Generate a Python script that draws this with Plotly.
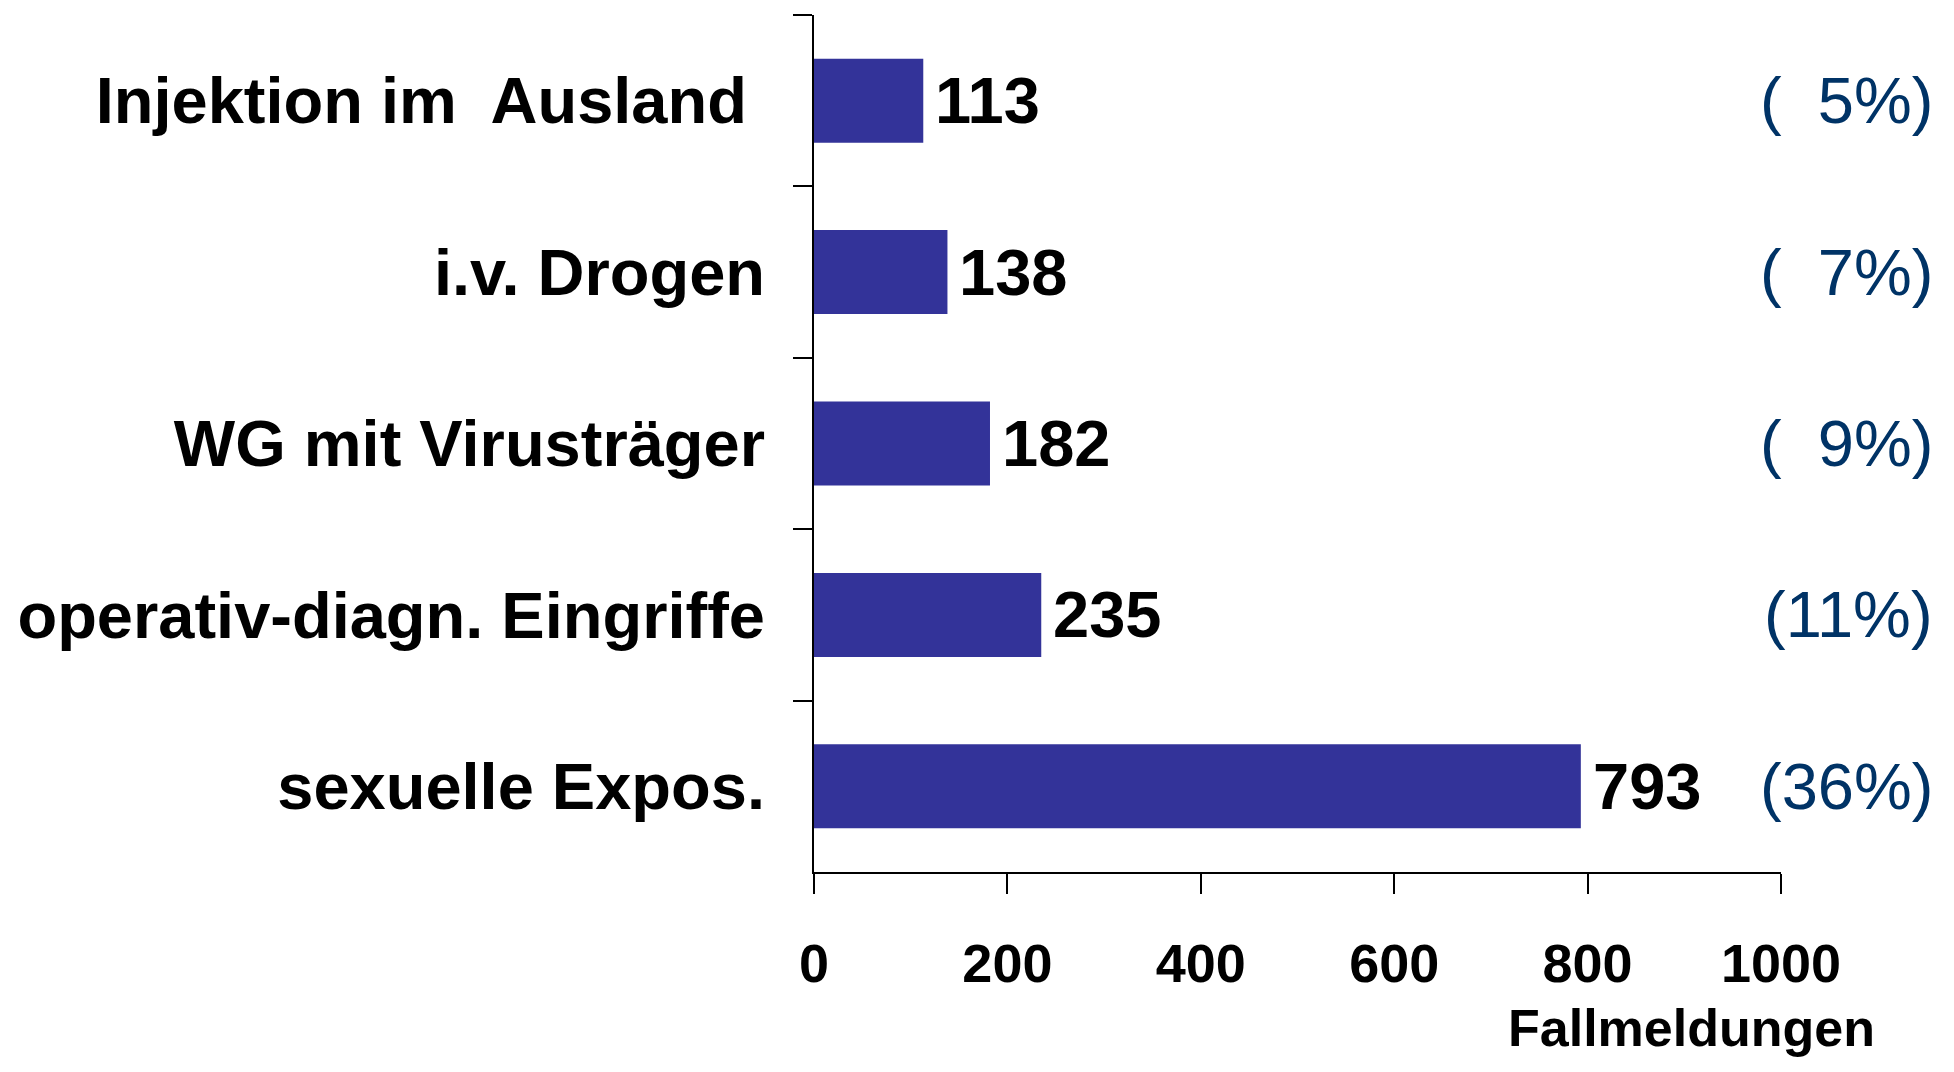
import plotly.graph_objects as go

# top-to-bottom order as shown
categories = [
    "Injektion im\u00a0 Ausland\u00a0",
    "i.v. Drogen",
    "WG mit Virusträger",
    "operativ-diagn. Eingriffe",
    "sexuelle Expos.",
]
cases = [113, 138, 182, 235, 793]
percent_labels = ["(\u00a0\u00a05%)", "(\u00a0\u00a07%)", "(\u00a0\u00a09%)", "(11%)", "(36%)"]
x_ticks = [0, 200, 400, 600, 800, 1000]

BAR_COLOR = "#333399"
PCT_COLOR = "#003366"
FONT = "Liberation Sans"

fig = go.Figure()
fig.add_trace(go.Bar(
    x=cases,
    y=categories,
    orientation="h",
    width=0.49,
    marker={"color": BAR_COLOR, "line": {"width": 0}},
    showlegend=False,
))

# value labels right of each bar
for cat, val in zip(categories, cases):
    fig.add_annotation(
        x=val, y=cat, xref="x", yref="y",
        text=str(val), showarrow=False,
        xanchor="left", yanchor="middle", xshift=10,
        font={"family": FONT, "size": 65, "color": "black", "weight": "bold"},
    )

# percentage labels at the right edge
for cat, pct in zip(categories, percent_labels):
    fig.add_annotation(
        x=1.159, y=cat, xref="paper", yref="y",
        text=pct, showarrow=False,
        xanchor="right", yanchor="middle",
        font={"family": FONT, "size": 65, "color": PCT_COLOR},
    )

fig.add_annotation(
    x=0.907, y=-0.182, xref="paper", yref="paper",
    text="Fallmeldungen", showarrow=False,
    xanchor="center", yanchor="middle", borderpad=0,
    font={"family": FONT, "size": 52, "color": "black", "weight": "bold"},
)

fig.update_xaxes(
    range=[0, 1000],
    tickvals=x_ticks,
    ticks="outside", ticklen=20, tickwidth=2, tickcolor="black",
    showline=True, linecolor="black", linewidth=2,
    showgrid=False, zeroline=False,
    ticklabelstandoff=23,
    tickfont={"family": FONT, "size": 54, "color": "black", "weight": "bold"},
)
fig.update_yaxes(
    type="category",
    autorange="reversed",
    tickson="boundaries",
    ticks="outside", ticklen=19, tickwidth=2, tickcolor="black",
    showline=True, linecolor="black", linewidth=2,
    showgrid=False, zeroline=False,
    ticklabelstandoff=34,
    tickfont={"family": FONT, "size": 65, "color": "black", "weight": "bold"},
)

# page body has an 8px margin, so the figure is sized to fit inside it
fig.update_layout(
    width=1938,
    height=1056,
    margin={"l": 806, "r": 165, "t": 7, "b": 192, "autoexpand": False},
    paper_bgcolor="white",
    plot_bgcolor="white",
)

fig.write_html("out.html")
